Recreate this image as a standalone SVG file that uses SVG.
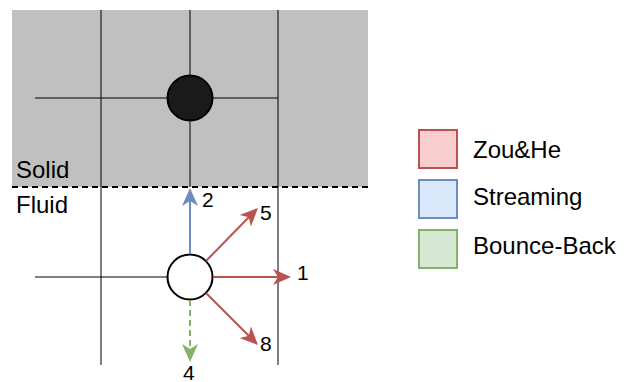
<svg xmlns="http://www.w3.org/2000/svg" width="632" height="382" viewBox="0 0 632 382">
<style>
.grid{stroke:#000;stroke-width:1;fill:none}
.lbl{font-family:"Liberation Sans",Arial,sans-serif;font-size:24px;fill:#000}
.num{font-family:"Liberation Sans",Arial,sans-serif;font-size:21px;fill:#000}
.red{stroke:#b85450;stroke-width:2;fill:none}
.blue{stroke:#6c8ebf;stroke-width:2;fill:none}
.green{stroke:#82b366;stroke-width:2;fill:none;stroke-dasharray:6 4}
</style>
<defs>
<path id="head" d="M0,0 L-18,-8 L-13,0 L-18,8 Z"/>
</defs>
<g id="solid-region">
<rect x="12" y="10" width="356" height="177" fill="#c0c0c0"/>
<text class="lbl" x="16" y="178">Solid</text>
</g>
<g id="grid">
<line class="grid" x1="101" y1="10" x2="101" y2="365"/>
<line class="grid" x1="278" y1="10" x2="278" y2="365" stroke="#333"/>
<line class="grid" x1="190" y1="10" x2="190" y2="187" stroke="#333"/>
<line class="grid" x1="35" y1="98" x2="278" y2="98"/>
<line class="grid" x1="35" y1="277" x2="168" y2="277" stroke="#333"/>
</g>
<g id="boundary">
<line x1="12" y1="187" x2="368" y2="187" stroke="#000" stroke-width="2" stroke-dasharray="6 4"/>
<text class="lbl" x="16" y="213">Fluid</text>
</g>
<g id="solid-node">
<circle cx="190" cy="98" r="22.5" fill="#1a1a1a" stroke="#000" stroke-width="2"/>
</g>
<g id="fluid-node">
<circle cx="190" cy="277" r="22.5" fill="#fff" stroke="#000" stroke-width="2"/>
</g>
<g id="connectors">
<line class="blue" x1="190" y1="254" x2="190" y2="200"/>
<use href="#head" fill="#6c8ebf" transform="translate(190,188) rotate(-90)"/>
<line class="red" x1="206" y1="261" x2="249" y2="217"/>
<use href="#head" fill="#b85450" transform="translate(258,208) rotate(-45)"/>
<line class="red" x1="213" y1="277" x2="279" y2="277"/>
<use href="#head" fill="#b85450" transform="translate(291,277)"/>
<line class="red" x1="206" y1="293" x2="249" y2="336"/>
<use href="#head" fill="#b85450" transform="translate(258,345) rotate(45)"/>
<line class="green" x1="190" y1="300" x2="190" y2="350"/>
<use href="#head" fill="#82b366" transform="translate(190,362) rotate(90)"/>
<text class="num" x="202" y="207">2</text>
<text class="num" x="260" y="220">5</text>
<text class="num" x="297" y="280">1</text>
<text class="num" x="260" y="351">8</text>
<text class="num" x="183" y="380">4</text>
</g>
<g id="legend-zouhe">
<rect x="419" y="130" width="38" height="38" fill="#f8cecc" stroke="#b85450" stroke-width="2"/>
<text class="lbl" x="473" y="158">Zou&amp;He</text>
</g>
<g id="legend-streaming">
<rect x="419" y="180" width="38" height="38" fill="#dae8fc" stroke="#6c8ebf" stroke-width="2"/>
<text class="lbl" x="473" y="205">Streaming</text>
</g>
<g id="legend-bounceback">
<rect x="419" y="230" width="38" height="38" fill="#d5e8d4" stroke="#82b366" stroke-width="2"/>
<text class="lbl" x="473" y="254">Bounce-Back</text>
</g>
</svg>
